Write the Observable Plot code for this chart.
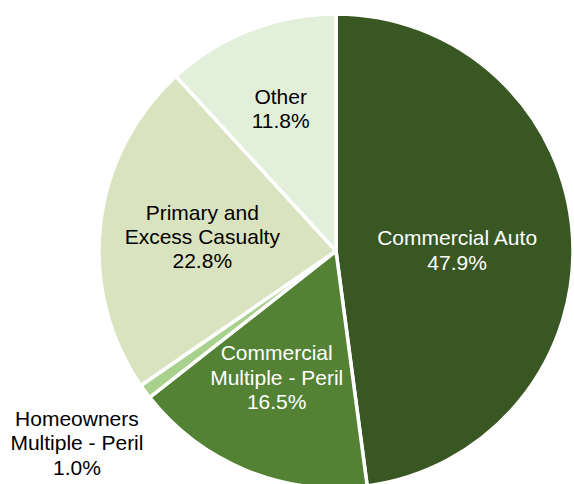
<!DOCTYPE html>
<html><head><meta charset="utf-8">
<script src="https://cdn.jsdelivr.net/npm/d3@7"></script>
<script src="https://cdn.jsdelivr.net/npm/@observablehq/plot@0.6"></script>
<style>body{margin:0;background:#fff}#chart{width:574px;height:484px;overflow:hidden}</style>
</head><body><div id="chart"></div>
<script>
// Data
const categories = ["Commercial Auto", "Commercial Multiple - Peril", "Homeowners Multiple - Peril", "Primary and Excess Casualty", "Other"];
const labelLines = ["Commercial Auto", "Commercial\nMultiple - Peril", "Homeowners\nMultiple - Peril", "Primary and\nExcess Casualty", "Other"];
const shares = [47.9, 16.5, 1.0, 22.8, 11.8];

// Styles / layout
const colors = ["#385723", "#548235", "#a9d18e", "#dae3bf", "#e2efda"];
const textColors = ["#ffffff", "#ffffff", "#000000", "#000000", "#000000"];
const labelRadius = [0.51, 0.58, 1.36, 0.57, 0.65];
const labelDx = [0, -8, 0, 0, 0];
const labelDy = [6, -2, 0, 0, 0];

const pie = d3.pie().sort(null).value(d => d)(shares);
const rows = pie.map((a, i) => {
  const mid = (a.startAngle + a.endAngle) / 2;
  return {
    category: categories[i],
    label: labelLines[i] + "\n" + shares[i].toFixed(1) + "%",
    x: labelRadius[i] * Math.sin(mid),
    y: labelRadius[i] * Math.cos(mid),
    dx: labelDx[i],
    dy: labelDy[i],
    tc: textColors[i]
  };
});

function slices(index, scales, values, dimensions) {
  const sx = scales.x, sy = scales.y;
  const cx = sx(0), cy = sy(0), r = sx(1) - cx;
  const arc = d3.arc().innerRadius(0).outerRadius(r);
  const g = d3.create("svg:g").attr("transform", `translate(${cx},${cy})`);
  g.selectAll("path").data(pie).join("path")
    .attr("d", arc)
    .attr("fill", (d, i) => colors[i])
    .attr("stroke", "#ffffff")
    .attr("stroke-width", 3.5)
    .attr("stroke-linejoin", "round");
  return g.node();
}

const textMarks = rows.map(r => Plot.text([r], {
  x: "x", y: "y", text: "label", fill: r.tc, dx: r.dx, dy: r.dy,
  fontSize: 21, lineHeight: 1.16, textAnchor: "middle",
  fontFamily: "'Liberation Sans', Arial, sans-serif"
}));

const chart = Plot.plot({
  width: 574,
  height: 484,
  margin: 0,
  style: {background: "#ffffff", fontFamily: "'Liberation Sans', Arial, sans-serif"},
  x: {domain: [-1, 1], range: [99, 573], axis: null},
  y: {domain: [-1, 1], range: [488, 14], axis: null},
  marks: [slices, ...textMarks]
});
document.getElementById("chart").appendChild(chart);
</script>
</body></html>
